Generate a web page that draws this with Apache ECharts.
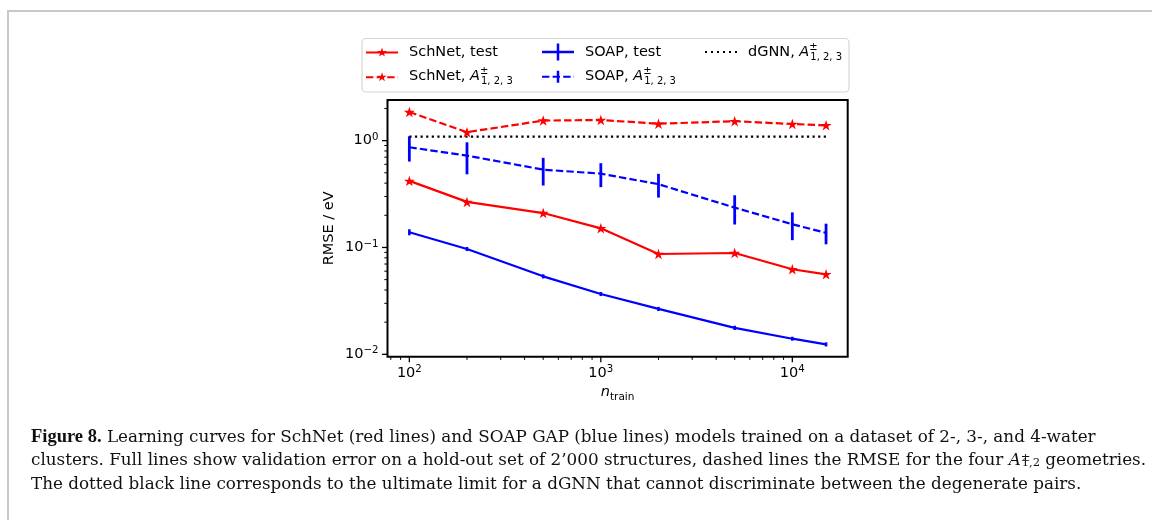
<!DOCTYPE html>
<html>
<head>
<meta charset="utf-8">
<script src="https://cdn.jsdelivr.net/npm/echarts@6/dist/echarts.min.js"></script>
<style>
  html, body { margin: 0; padding: 0; background: #fff; }
  #chart { width: 1152px; height: 520px; }
</style>
</head>
<body>
<div id="chart"></div>
<script>
  // training set sizes
  const nTrain = [100, 200, 500, 1000, 2000, 5000, 10000, 15000];

  // RMSE / eV
  const schnetTest = [0.42, 0.267, 0.210, 0.151, 0.0869, 0.0888, 0.0625, 0.0561];
  const schnetDegenerate = [1.85, 1.20, 1.54, 1.56, 1.44, 1.52, 1.43, 1.39];
  const soapTest = [0.139, 0.0968, 0.0537, 0.0367, 0.0266, 0.0177, 0.0140, 0.0124];
  const soapTestErr = [0.009, 0.0043, 0.0024, 0.0016, 0.0012, 0.0008, 0.0006, 0.00055];
  const soapDegenerate = [0.867, 0.724, 0.535, 0.491, 0.391, 0.236, 0.165, 0.137];
  const soapDegenerateErr = [0.23, 0.24, 0.155, 0.124, 0.098, 0.072, 0.048, 0.03];
  const dgnnX = [100, 15000];
  const dgnnLimit = [1.09, 1.09];

  // tick values
  const xMajorTicks = [100, 1000, 10000];
  const xMinorTicks = [80, 90, 200, 300, 400, 500, 600, 700, 800, 900,
    2000, 3000, 4000, 5000, 6000, 7000, 8000, 9000];
  const yMajorTicks = [0.01, 0.1, 1];
  const yMinorTicks = [0.02, 0.03, 0.04, 0.05, 0.06, 0.07, 0.08, 0.09,
    0.2, 0.3, 0.4, 0.5, 0.6, 0.7, 0.8, 0.9, 2];

  const X_MIN = 76.9, X_MAX = 19460;
  const Y_MIN = 0.0095, Y_MAX = 2.4;

  const FONT = 'DejaVu Sans';
  const SERIF = 'DejaVu Serif';
  const RED = '#ff0000';
  const BLUE = '#0000ff';

  function starPath(cx, cy, r) {
    let d = '';
    for (let i = 0; i < 10; i++) {
      const rr = i % 2 ? r * 0.382 : r;
      const a = -Math.PI / 2 + i * Math.PI / 5;
      d += (i ? 'L' : 'M') + (cx + rr * Math.cos(a)).toFixed(3) + ' ' + (cy + rr * Math.sin(a)).toFixed(3);
    }
    return d + 'Z';
  }

  const dashes = 'M0 7.5h7.4v2H0z M10.6 7.5h7.4v2h-7.4z M21.2 7.5h7.4v2h-7.4z M31.7 7.5h0.3v2h-0.3z';
  const legendIcons = {
    'SchNet, test': 'path://M0 7.5h32v2H0z ' + starPath(16, 8.5, 5),
    'SchNet, A': 'path://' + dashes + ' ' + starPath(16, 8.5, 5),
    'SOAP, test': 'path://M0 7.25h32v2.5H0z M14.75 0h2.5v17h-2.5z',
    'SOAP, A': 'path://' + dashes + ' M14.75 2.5h2.5v12h-2.5z',
    'dGNN': 'path://M0 7.5h2v2H0z M6 7.5h2v2H6z M12 7.5h2v2h-2z M18 7.5h2v2h-2z M24 7.5h2v2h-2z M30 7.5h2v2h-2z'
  };
  const legendLabels = {
    'SchNet, test': 'SchNet, test',
    'SchNet, A': 'SchNet, {it|A}{sup|±}{sub|1, 2, 3}',
    'SOAP, test': 'SOAP, test',
    'SOAP, A': 'SOAP, {it|A}{sup|±}{sub|1, 2, 3}',
    'dGNN': 'dGNN, {it|A}{sup|±}{sub|1, 2, 3}'
  };

  const mathRich = {
    it: { fontFamily: FONT, fontStyle: 'italic', fontSize: 14.5, lineHeight: 20, color: '#000' },
    sup: { fontFamily: FONT, fontSize: 10, lineHeight: 10, verticalAlign: 'top', width: 1, color: '#000' },
    sub: { fontFamily: FONT, fontSize: 10, lineHeight: 10, verticalAlign: 'bottom', color: '#000' }
  };

  const tickRich = {
    sup: { fontFamily: FONT, fontSize: 10.2, lineHeight: 10, verticalAlign: 'top', color: '#000' }
  };

  function powerLabel(majors) {
    return function (value) {
      const hit = majors.find(m => Math.abs(value / m - 1) < 1e-6);
      if (!hit) return '';
      const exp = Math.round(Math.log10(hit));
      return '10{sup|' + String(exp).replace('-', '\u2212') + '}';
    };
  }

  function makeLegend(names, left) {
    return {
      orient: 'vertical',
      left: left,
      top: 42,
      padding: 0,
      itemGap: 4.7,
      itemWidth: 32,
      itemHeight: 17,
      symbolKeepAspect: true,
      selectedMode: false,
      itemStyle: { borderWidth: 0 },
      data: names.map(n => ({ name: n, icon: legendIcons[n] })),
      formatter: n => legendLabels[n],
      textStyle: {
        fontFamily: FONT, fontSize: 14.5, color: '#000', lineHeight: 20,
        padding: [0, 0, 0, 6], rich: mathRich
      }
    };
  }

  function errorBars(width) {
    return function (params, api) {
      const x = api.value(0), y = api.value(1), e = api.value(2);
      const top = api.coord([x, y + e]);
      const bot = api.coord([x, y - e]);
      return {
        type: 'line',
        shape: { x1: top[0], y1: top[1], x2: bot[0], y2: bot[1] },
        style: { stroke: api.visual('color'), lineWidth: width }
      };
    };
  }

  function xTickItem(params, api) {
    const p = api.coord([api.value(0), Y_MIN]);
    const major = api.value(2) === 1;
    return {
      type: 'line',
      shape: { x1: p[0], y1: p[1], x2: p[0], y2: p[1] + (major ? 5.5 : 3.2) },
      style: { stroke: '#000', lineWidth: major ? 1.3 : 1 }
    };
  }

  function yTickItem(params, api) {
    const p = api.coord([X_MIN, api.value(1)]);
    const major = api.value(2) === 1;
    return {
      type: 'line',
      shape: { x1: p[0], y1: p[1], x2: p[0] - (major ? 5.5 : 3.2), y2: p[1] },
      style: { stroke: '#000', lineWidth: major ? 1.3 : 1 }
    };
  }

  const starSymbol = 'path://' + starPath(0, 0, 1);

  const xTickData = xMajorTicks.map(v => [v, Y_MIN, 1]).concat(xMinorTicks.map(v => [v, Y_MIN, 0]));
  const yTickData = yMajorTicks.map(v => [X_MIN, v, 1]).concat(yMinorTicks.map(v => [X_MIN, v, 0]));

  const captionRich = {
    b: { fontFamily: 'Liberation Serif', fontSize: 18.5, fontWeight: 'bold', color: '#111' },
    it: { fontFamily: SERIF, fontSize: 16.8, fontStyle: 'italic', color: '#111' },
    sup: { fontFamily: SERIF, fontSize: 11.5, lineHeight: 11, verticalAlign: 'top', width: 1, color: '#111' },
    sub: { fontFamily: SERIF, fontSize: 11.5, lineHeight: 11, verticalAlign: 'bottom', color: '#111' }
  };
  const captionLines = [
    '{b|Figure 8.} Learning curves for SchNet (red lines) and SOAP GAP (blue lines) models trained on a dataset of 2-, 3-, and 4-water',
    'clusters. Full lines show validation error on a hold-out set of 2\u2019000 structures, dashed lines the RMSE for the four {it|A}{sup|±}{sub|1,2} geometries.',
    'The dotted black line corresponds to the ultimate limit for a dGNN that cannot discriminate between the degenerate pairs.'
  ];

  const chart = echarts.init(document.getElementById('chart'));
  chart.setOption({
    animation: false,
    backgroundColor: '#fff',
    grid: {
      left: 387.5, top: 100, right: 304.3, bottom: 163.3,
      show: true, borderColor: '#000', borderWidth: 2, backgroundColor: 'transparent'
    },
    legend: [
      makeLegend(['SchNet, test', 'SchNet, A'], 366),
      makeLegend(['SOAP, test', 'SOAP, A'], 542),
      makeLegend(['dGNN'], 705)
    ],
    xAxis: {
      type: 'log', logBase: 10, min: X_MIN, max: X_MAX,
      axisLine: { show: false },
      axisTick: { show: false },
      splitLine: { show: false },
      axisLabel: {
        margin: 8, showMinLabel: false, showMaxLabel: false,
        fontFamily: FONT, fontSize: 14.5, color: '#000', lineHeight: 17,
        formatter: powerLabel(xMajorTicks), rich: tickRich
      },
      name: '{it|n}{sub|train}',
      nameLocation: 'middle',
      nameGap: 24,
      nameTextStyle: {
        fontFamily: FONT, fontSize: 14.5, color: '#000', lineHeight: 20,
        rich: {
          it: { fontFamily: FONT, fontStyle: 'italic', fontSize: 14.5, lineHeight: 20, color: '#000' },
          sub: { fontFamily: FONT, fontSize: 10.5, lineHeight: 10, verticalAlign: 'bottom', color: '#000' }
        }
      }
    },
    yAxis: {
      type: 'log', logBase: 10, min: Y_MIN, max: Y_MAX,
      axisLine: { show: false },
      axisTick: { show: false },
      splitLine: { show: false },
      axisLabel: {
        margin: 9, showMinLabel: false, showMaxLabel: false,
        fontFamily: FONT, fontSize: 14.5, color: '#000', lineHeight: 17,
        formatter: powerLabel(yMajorTicks), rich: tickRich
      },
      name: 'RMSE / eV',
      nameLocation: 'middle',
      nameGap: 51,
      nameTextStyle: { fontFamily: FONT, fontSize: 14.5, color: '#000' }
    },
    series: [
      {
        name: 'SchNet, test', type: 'line',
        data: nTrain.map((x, i) => [x, schnetTest[i]]),
        color: RED,
        lineStyle: { width: 2.2, color: RED },
        symbol: starSymbol, symbolSize: 11, symbolKeepAspect: true,
        itemStyle: { color: RED, borderWidth: 0 },
        z: 3
      },
      {
        name: 'SchNet, A', type: 'line',
        data: nTrain.map((x, i) => [x, schnetDegenerate[i]]),
        color: RED,
        lineStyle: { width: 2.2, color: RED, type: [7.4, 3.2] },
        symbol: starSymbol, symbolSize: 11, symbolKeepAspect: true,
        itemStyle: { color: RED, borderWidth: 0 },
        z: 3
      },
      {
        name: 'SOAP, test', type: 'line',
        data: nTrain.map((x, i) => [x, soapTest[i]]),
        color: BLUE,
        lineStyle: { width: 2.2, color: BLUE },
        symbol: 'none',
        z: 3
      },
      {
        name: 'SOAP, test errors', type: 'custom',
        data: nTrain.map((x, i) => [x, soapTest[i], soapTestErr[i]]),
        itemStyle: { color: BLUE },
        renderItem: errorBars(2.6),
        silent: true, z: 3
      },
      {
        name: 'SOAP, A', type: 'line',
        data: nTrain.map((x, i) => [x, soapDegenerate[i]]),
        color: BLUE,
        lineStyle: { width: 2.2, color: BLUE, type: [7.4, 3.2] },
        symbol: 'none',
        z: 3
      },
      {
        name: 'SOAP, A errors', type: 'custom',
        data: nTrain.map((x, i) => [x, soapDegenerate[i], soapDegenerateErr[i]]),
        itemStyle: { color: BLUE },
        renderItem: errorBars(2.8),
        silent: true, z: 3
      },
      {
        name: 'dGNN', type: 'line',
        data: dgnnX.map((x, i) => [x, dgnnLimit[i]]),
        color: '#000',
        lineStyle: { width: 2.2, color: '#000', type: [2.2, 3.4] },
        symbol: 'none',
        z: 3
      },
      {
        name: 'x ticks', type: 'custom', data: xTickData,
        renderItem: xTickItem, silent: true, z: 4
      },
      {
        name: 'y ticks', type: 'custom', data: yTickData,
        renderItem: yTickItem, silent: true, z: 4
      }
    ],
    graphic: [
      {
        type: 'polyline', z: 0,
        shape: { points: [[8, 520], [8, 11], [1152, 11]] },
        style: { stroke: '#c8c8c8', lineWidth: 2, fill: null }
      },
      {
        type: 'rect', z: 1,
        shape: { x: 362, y: 38.5, width: 487, height: 53.5, r: 4 },
        style: { fill: 'rgba(255,255,255,0.8)', stroke: '#d6d6d6', lineWidth: 1.2 }
      }
    ].concat(captionLines.map((line, i) => ({
      type: 'text', z: 5,
      left: 31, top: 428 + i * 24.3,
      style: {
        text: line,
        fontFamily: SERIF, fontSize: 16.8, fill: '#111',
        rich: captionRich
      }
    })))
  });
</script>
</body>
</html>
